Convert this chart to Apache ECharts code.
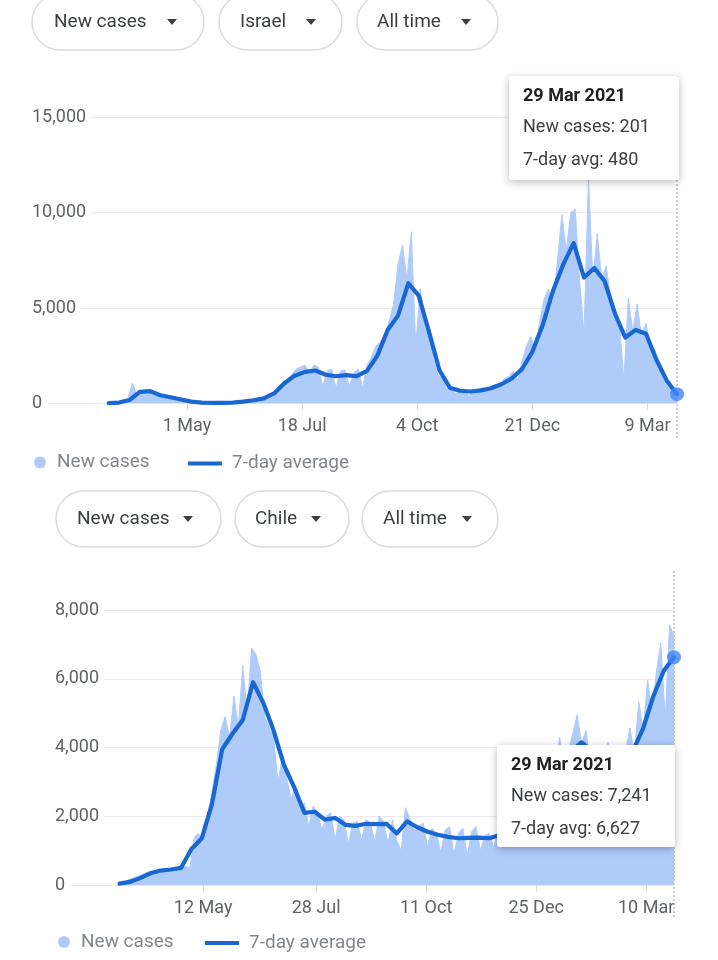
<!DOCTYPE html>
<html><head><meta charset="utf-8">
<script src="https://cdn.jsdelivr.net/npm/echarts@6/dist/echarts.min.js"></script>
<style>html,body{margin:0;padding:0;background:#fff}#c{width:718px;height:960px}</style>
</head><body><div id="c"></div>
<script>
// ---------- Israel ----------
const israelCasesStart = '2020-03-13'; // one value every 3 days
const israelCasesStep = 3;
const israelNewCases = [
  20, 60, 120, 250, 1050, 500, 650, 700, 580, 450, 400, 350, 300, 250, 200, 180, 120,
  90, 60, 40, 30, 20, 15, 20, 25, 20, 40, 60, 70, 100, 130, 180, 200, 280, 330, 450, 600,
  900, 1100, 1300, 1500, 1800, 1900, 2000, 1600, 2000, 1900, 900, 1700, 1800, 800, 1700, 1750, 900, 1600, 1800, 800, 2000, 2400, 3000,
  3200, 3600, 4300, 5200, 7300, 8300, 6500, 9000, 3000, 6000, 4500, 3500, 2300, 1500, 1300, 700, 900, 500, 700, 750, 400, 700, 750,
  800, 650, 900, 1000, 900, 1300, 1400, 1700, 1200, 2200, 3000, 3500, 2800, 4300, 5500, 6000, 5200, 7500, 9900, 8000, 10000, 10200, 6500,
  3600, 11800, 6500, 8900, 6500, 7200, 5600, 4500, 4300, 1200, 5500, 3800, 5200, 3500, 4200, 3000, 2800, 1800, 1300, 900, 700, 201
];
const israelAvgStart = '2020-03-09'; // one value every 7 days
const israelAvgStep = 7;
const israelAvg = [
  10, 40, 170, 600, 640, 420, 320, 200, 90, 35, 20, 25, 40, 90, 160, 260, 520, 1050, 1450, 1650,
  1720, 1500, 1420, 1480, 1420, 1700, 2500, 3850, 4600, 6300, 5650, 3750, 1750, 820, 660, 620, 680, 790,
  1000, 1300, 1800, 2700, 4100, 5900, 7300, 8400, 6600, 7100, 6400, 4700, 3450, 3850, 3650, 2300, 1200, 480
];
const israelTickDates = ['2020-05-01', '2020-07-18', '2020-10-04', '2020-12-21', '2021-03-09'];
const israelTickLabels = ['1 May', '18 Jul', '4 Oct', '21 Dec', '9 Mar'];
const israelYMax = 15000, israelYStep = 5000;
const israelRange = ['2020-01-17', '2021-03-29'];

// ---------- Chile ----------
const chileCasesStart = '2020-03-16';
const chileCasesStep = 3;
const chileNewCases = [
  60, 80, 150, 200, 250, 300, 350, 400, 380, 450, 420, 480, 400, 500, 450, 550, 500,
  1400, 1500, 1200, 2000, 2700, 3500, 4500, 4900, 4300, 5500, 4600, 6400, 5000, 6900, 6700, 6200, 4900,
  4600, 4300, 3000, 3700, 3100, 2500, 2900, 2200, 2400, 1700, 2300, 2100, 1600, 2000, 2100, 1300, 2000,
  1900, 1200, 1800, 1850, 1300, 1900, 1800, 1250, 2000, 1850, 1200, 1900, 1300, 1000, 2250, 1900, 1600,
  1700, 1800, 1100, 1650, 1500, 950, 1600, 1700, 900, 1500, 1650, 850, 1550, 1700, 1000, 1450, 1500,
  1100, 1550, 1600, 1300, 1750, 1800, 1500, 2100, 2200, 1800, 2600, 2700, 2300, 3200, 3300, 4300, 3500,
  3900, 4400, 4950, 4100, 4500, 3500, 3800, 3600, 3300, 4150, 3400, 3700, 3500, 3900, 4570, 3800, 5330, 4500, 5970, 5000, 6200, 7040, 4800, 7570, 7241
];
const chileAvgStart = '2020-03-16';
const chileAvgStep = 7;
const chileAvg = [
  40, 90, 200, 340, 420, 450, 500, 1050, 1350, 2350, 3950, 4400, 4800, 5900, 5300, 4500, 3500, 2850, 2100, 2130,
  1900, 1950, 1750, 1720, 1780, 1770, 1780, 1500, 1850, 1680, 1550, 1460, 1400, 1360, 1370, 1380, 1360, 1450,
  1600, 1800, 2000, 2400, 2900, 3400, 3900, 4150, 3900, 3700, 3600, 3750, 3900, 4560, 5500, 6230, 6627
];
const chileTickDates = ['2020-05-12', '2020-07-28', '2020-10-11', '2020-12-25', '2021-03-10'];
const chileTickLabels = ['12 May', '28 Jul', '11 Oct', '25 Dec', '10 Mar'];
const chileYMax = 8000, chileYStep = 2000;
const chileRange = ['2020-02-01', '2021-03-29'];

const pillLabelsIsrael = ['New cases', 'Israel', 'All time'];
const pillLabelsChile = ['New cases', 'Chile', 'All time'];
const seriesNames = ['New cases', '7-day average'];

// ---------- helpers ----------
const MONTHS = ['Jan','Feb','Mar','Apr','May','Jun','Jul','Aug','Sep','Oct','Nov','Dec'];
const toDay = s => Date.UTC(+s.slice(0, 4), +s.slice(5, 7) - 1, +s.slice(8, 10)) / 864e5;
const fullDate = day => { const d = new Date(day * 864e5); return d.getUTCDate() + ' ' + MONTHS[d.getUTCMonth()] + ' ' + d.getUTCFullYear(); };
const fmt = v => v.toLocaleString('en-US');
const toSeries = (start, step, arr) => arr.map((v, i) => [toDay(start) + step * i, v]);

const FONT = 'Roboto';
const C_FILL = '#aecbfa', C_LINE = '#1967d2', C_DOT = '#4285f4';

function axesFor(gi, tickDates, tickLabels, range, yMax, yStep) {
  const ticks = tickDates.map(toDay);
  const x = {
    type: 'value', gridIndex: gi, min: toDay(range[0]), max: toDay(range[1]),
    splitLine: { show: false }, axisLine: { show: false },
    axisTick: { show: true, customValues: ticks, length: 7, lineStyle: { color: '#dadce0' } },
    axisLabel: {
      customValues: ticks, margin: 14, fontSize: 18, fontFamily: FONT, color: '#5f6368',
      formatter: v => { const i = ticks.findIndex(t => Math.abs(t - v) < 0.5); return i >= 0 ? tickLabels[i] : ''; }
    }
  };
  const yLines = {
    type: 'value', gridIndex: gi, position: 'left', min: 0, max: yMax, interval: yStep, z: 0,
    axisLine: { show: false }, axisTick: { show: false }, axisLabel: { show: false },
    splitLine: { show: true, lineStyle: { color: '#e8eaed', width: 1 } }
  };
  const yLabels = {
    type: 'value', gridIndex: gi, position: 'left', offset: 0, min: 0, max: yMax, interval: yStep, z: 1,
    axisLine: { show: false }, axisTick: { show: false }, splitLine: { show: false },
    axisLabel: {
      inside: true, margin: 0, fontSize: 18, fontFamily: FONT, color: '#5f6368', align: 'left',
      backgroundColor: '#fff', padding: [3, 5, 3, 0], formatter: v => fmt(v)
    }
  };
  return { x, yLines, yLabels };
}

const ax0 = axesFor(0, israelTickDates, israelTickLabels, israelRange, israelYMax, israelYStep);
const ax1 = axesFor(1, chileTickDates, chileTickLabels, chileRange, chileYMax, chileYStep);

function seriesFor(gi, yIdx, cases, avg) {
  const last = avg[avg.length - 1];
  return [
    { name: seriesNames[0], type: 'line', xAxisIndex: gi, yAxisIndex: yIdx, data: cases, symbol: 'none',
      lineStyle: { color: C_FILL, width: 1 }, itemStyle: { color: C_FILL },
      areaStyle: { color: C_FILL, opacity: 1 }, z: 2, silent: true },
    { name: seriesNames[1], type: 'line', xAxisIndex: gi, yAxisIndex: yIdx, data: avg, symbol: 'none',
      lineStyle: { color: C_LINE, width: 4.2, join: 'round', cap: 'round' }, itemStyle: { color: C_LINE }, z: 3, silent: true },
    { name: 'end', type: 'scatter', xAxisIndex: gi, yAxisIndex: yIdx, data: [last], symbolSize: 14,
      itemStyle: { color: C_DOT }, z: 20, silent: true }
  ];
}

const isrCases = toSeries(israelCasesStart, israelCasesStep, israelNewCases);
const isrAvg = toSeries(israelAvgStart, israelAvgStep, israelAvg);
const chiCases = toSeries(chileCasesStart, chileCasesStep, chileNewCases);
const chiAvg = toSeries(chileAvgStart, chileAvgStep, chileAvg);

function legendPair(cx, cy, lx) {
  const ts = { fontSize: 19, fontFamily: FONT, color: '#80868b' };
  return [
    { data: [{ name: seriesNames[0], icon: 'circle', itemStyle: { color: C_FILL } }], left: cx - 6, top: cy - 8.5,
      itemWidth: 12, itemHeight: 12, padding: 0, selectedMode: false, textStyle: Object.assign({ padding: [0, 0, 0, 6] }, ts) },
    { data: [{ name: seriesNames[1], icon: 'rect', itemStyle: { color: C_LINE } }], left: lx, top: cy - 7.5,
      itemWidth: 34, itemHeight: 4, padding: 0, selectedMode: false, textStyle: Object.assign({ padding: [0, 0, 0, 5] }, ts) }
  ];
}

const chart = echarts.init(document.getElementById('c'), null, { renderer: 'canvas' });
chart.setOption({
  animation: false,
  backgroundColor: '#fff',
  grid: [
    { left: 32, right: 41, top: 117.4, bottom: 556.7 },
    { left: 55, right: 44, top: 610, bottom: 75 }
  ],
  xAxis: [ax0.x, ax1.x],
  yAxis: [ax0.yLines, ax0.yLabels, ax1.yLines, ax1.yLabels],
  legend: legendPair(40, 461.5, 188).concat(legendPair(64, 941, 205)),
  series: seriesFor(0, 0, isrCases, isrAvg).concat(seriesFor(1, 2, chiCases, chiAvg))
});

// ---------- annotations: pills, hover line, tooltips ----------
function pills(y, boxes, labels) {
  const out = [];
  boxes.forEach((b, i) => {
    out.push({ type: 'rect', z: 10, shape: { x: b[0], y: y, width: b[1] - b[0], height: 56, r: 28 },
      style: { fill: '#fff', stroke: '#dadce0', lineWidth: 1.5 } });
    out.push({ type: 'text', z: 11, style: { x: b[2], y: y + 28, text: labels[i], fontSize: 19, fontFamily: FONT,
      fill: '#3c4043', verticalAlign: 'middle', align: 'left' } });
    out.push({ type: 'polygon', z: 11, shape: { points: [[b[3] - 5, y + 25], [b[3] + 5, y + 25], [b[3], y + 31]] },
      style: { fill: '#3c4043' } });
  });
  return out;
}
function hoverLine(gi, lastDay, y1, y2) {
  const px = chart.convertToPixel({ xAxisIndex: gi }, lastDay);
  return { type: 'line', z: 1, shape: { x1: px, y1: y1, x2: px, y2: y2 },
    style: { stroke: '#9aa0a6', lineWidth: 1, lineDash: [2, 2] } };
}
function tip(x, y, w, h, tx, day, cases, avg) {
  const t = [fullDate(day), 'New cases: ' + fmt(cases), '7-day avg: ' + fmt(avg)];
  return [
    { type: 'rect', z: 100, shape: { x: x, y: y, width: w, height: h, r: 3 },
      style: { fill: '#fff', shadowBlur: 8, shadowColor: 'rgba(0,0,0,0.28)', shadowOffsetY: 2 } },
    { type: 'text', z: 101, style: { x: tx, y: y + 20, text: t[0], fontSize: 18, fontWeight: 'bold', fontFamily: FONT, fill: '#202124', verticalAlign: 'middle' } },
    { type: 'text', z: 101, style: { x: tx, y: y + 51, text: t[1], fontSize: 18, fontFamily: FONT, fill: '#3c4043', verticalAlign: 'middle' } },
    { type: 'text', z: 101, style: { x: tx, y: y + 84, text: t[2], fontSize: 18, fontFamily: FONT, fill: '#3c4043', verticalAlign: 'middle' } }
  ];
}

const isrLast = isrAvg[isrAvg.length - 1][0];
const chiLast = chiAvg[chiAvg.length - 1][0];
const graphics = []
  .concat(pills(-6, [[32, 204, 54, 172], [219, 342, 240, 311], [357, 498, 377, 466]], pillLabelsIsrael))
  .concat(pills(491, [[56, 221, 77, 188], [235, 349, 255, 316], [362, 498, 383, 467]], pillLabelsChile))
  .concat([hoverLine(0, isrLast, 76, 438), hoverLine(1, chiLast, 571, 918)])
  .concat(tip(509, 76, 170, 104, 523, isrLast, israelNewCases[israelNewCases.length - 1], israelAvg[israelAvg.length - 1]))
  .concat(tip(497, 745, 178, 102, 511, chiLast, chileNewCases[chileNewCases.length - 1], chileAvg[chileAvg.length - 1]));
chart.setOption({ graphic: { elements: graphics } });
</script>
</body></html>
